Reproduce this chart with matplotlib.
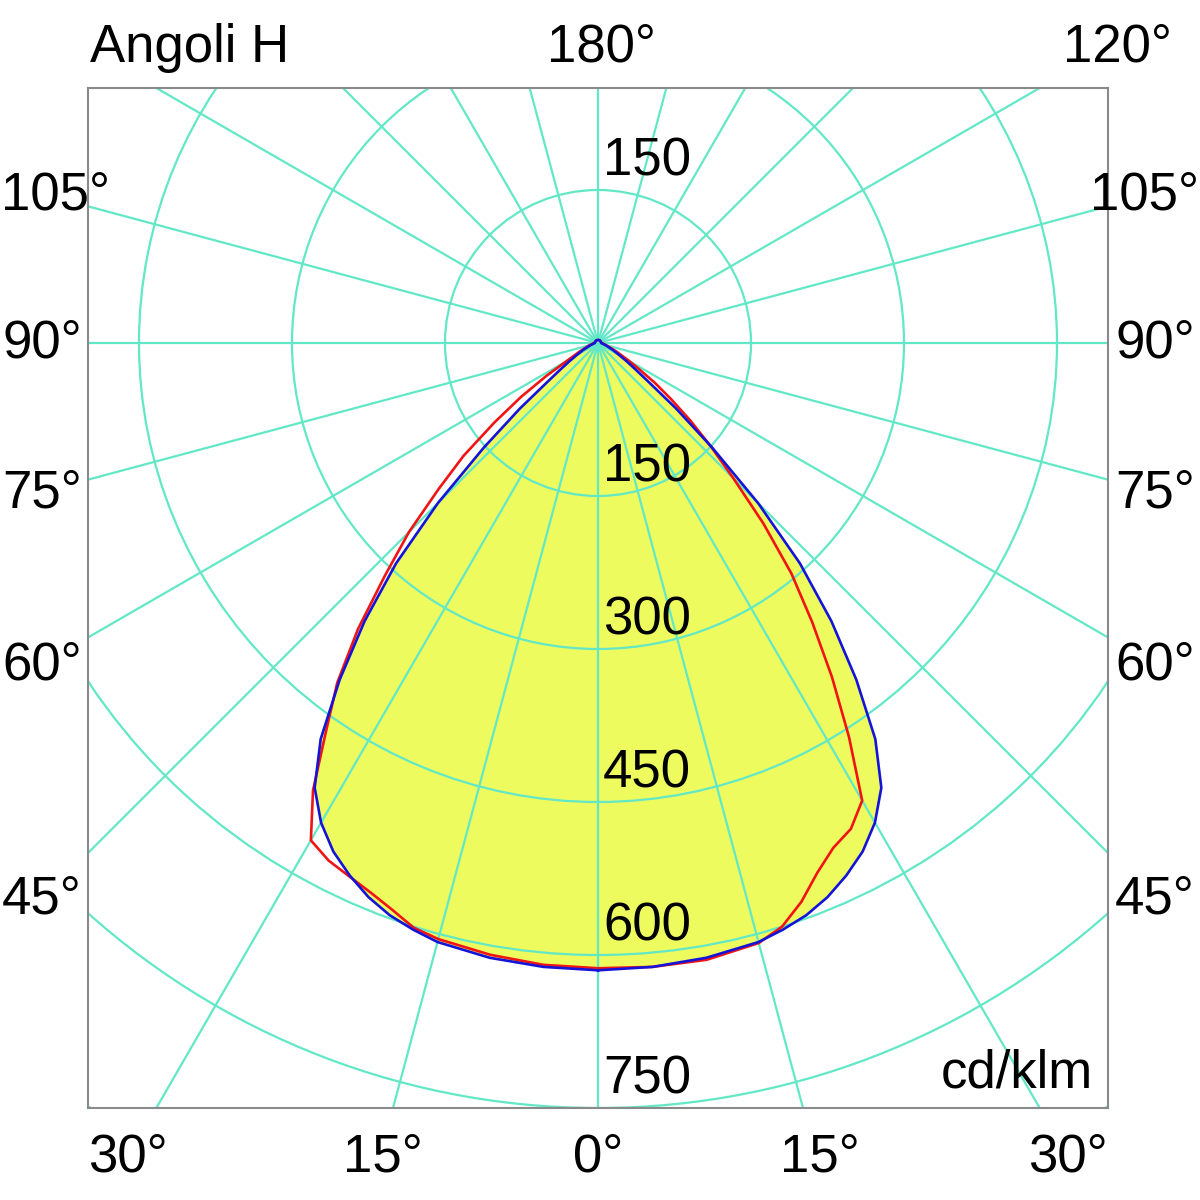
import numpy as np
import matplotlib
matplotlib.use("Agg")
import matplotlib.pyplot as plt
from matplotlib.patches import Circle

# photometric data, cd/klm, gamma measured from nadir
gamma = [0, 5, 10, 15, 17.5, 20, 22.5, 25, 27.5, 30, 32.5, 35, 37.5, 40, 42.5,
         45, 47.5, 50, 52.5, 55, 57.5, 60, 65, 70, 75, 80, 90, 105, 120, 135,
         150, 165, 180]

blue_i = [615, 614, 612, 608, 603, 597, 588, 576, 562, 543, 517, 474, 416, 356, 293,
          222, 152, 100, 62, 44, 33, 25, 16, 10, 7, 5, 3, 3, 3, 3,
          3, 3, 3]

red_left = [613, 612, 609, 605, 601, 591, 583, 577, 572, 563, 520, 465, 420, 366, 309,
            262, 212, 172, 128, 92, 60, 36, 20, 12, 9, 6, 4, 3, 3, 3,
            3, 3, 3]

red_right = [613, 614, 614, 609, 600, 583, 562, 546, 537, 518, 458, 400, 345, 295, 240,
             188, 150, 118, 90, 68, 48, 35, 20, 12, 8, 6, 4, 3, 3, 3,
             3, 3, 3]

rings = [150, 300, 450, 600, 750, 900]
ring_labels = ["150", "150", "300", "450", "600", "750"]
ring_label_y = [150, -150, -300, -450, -600, -750]

side_labels = ["105°", "90°", "75°", "60°", "45°"]
side_label_py = [195, 343, 493, 665, 900]
bottom_labels = ["30°", "15°", "0°", "15°", "30°"]
bottom_label_px = [128, 383, 598, 820, 1068]

GRID = "#62E8C6"
FILL = "#EEFB5E"
FONT = "Liberation Sans"
FS = 38


def half(values, sign):
    g = np.radians(gamma)
    v = np.asarray(values, dtype=float)
    return sign * v * np.sin(g), -v * np.cos(g)


def px(x, y):
    return x / 1200, 1 - y / 1200


fig = plt.figure(figsize=(12, 12), dpi=100)
ax = fig.add_axes([88 / 1200, 92 / 1200, 1020 / 1200, 1020 / 1200])
ax.set_xlim(-500, 500)
ax.set_ylim(-750, 250)
ax.set_aspect("equal")
ax.set_xticks([])
ax.set_yticks([])
for s in ax.spines.values():
    s.set_color("#8a8a8a")
    s.set_linewidth(1.5)

# fill of the blue curve
bx_r, by_r = half(blue_i, 1)
bx_l, by_l = half(blue_i, -1)
bx = np.concatenate([bx_r, bx_l[::-1]])
by = np.concatenate([by_r, by_l[::-1]])
ax.fill(bx, by, color=FILL, zorder=1, lw=0)

# grid
for r in rings:
    ax.add_patch(Circle((0, 0), r, fill=False, ec=GRID, lw=1.6, zorder=2))
for a in range(0, 360, 15):
    t = np.radians(a)
    ax.plot([0, 1200 * np.sin(t)], [0, -1200 * np.cos(t)], color=GRID, lw=1.6, zorder=2)

# curves
rx_r, ry_r = half(red_right, 1)
rx_l, ry_l = half(red_left, -1)
ax.plot(np.concatenate([rx_r, rx_l[::-1]]), np.concatenate([ry_r, ry_l[::-1]]),
        color="#F01414", lw=1.9, zorder=3, solid_joinstyle="round")
ax.plot(bx, by, color="#1414D8", lw=1.9, zorder=4, solid_joinstyle="round")

# ring values
for lab, yv in zip(ring_labels, ring_label_y):
    ax.text(5, yv + 14, lab, ha="left", va="baseline", fontsize=FS,
            family=FONT, zorder=5)
ax.text(*px(1093, 1087), "cd/klm", transform=fig.transFigure, ha="right",
        va="baseline", fontsize=FS, family=FONT, zorder=5)

# angle labels round the frame
fig.text(*px(90, 62), "Angoli H", ha="left", va="baseline", fontsize=FS, family=FONT)
fig.text(*px(601, 62), "180°", ha="center", va="baseline", fontsize=FS, family=FONT)
fig.text(*px(1172, 62), "120°", ha="right", va="baseline", fontsize=FS, family=FONT)
for lab, py in zip(side_labels, side_label_py):
    if lab == "105°":
        fig.text(*px(1, py), lab, ha="left", va="center", fontsize=FS, family=FONT)
        fig.text(*px(1199, py), lab, ha="right", va="center", fontsize=FS, family=FONT)
    else:
        fig.text(*px(42, py), lab, ha="center", va="center", fontsize=FS, family=FONT)
        fig.text(*px(1155, py), lab, ha="center", va="center", fontsize=FS, family=FONT)
for lab, pxx in zip(bottom_labels, bottom_label_px):
    fig.text(*px(pxx, 1172), lab, ha="center", va="baseline", fontsize=FS, family=FONT)

fig.savefig("out.png", dpi=100, facecolor="white")
